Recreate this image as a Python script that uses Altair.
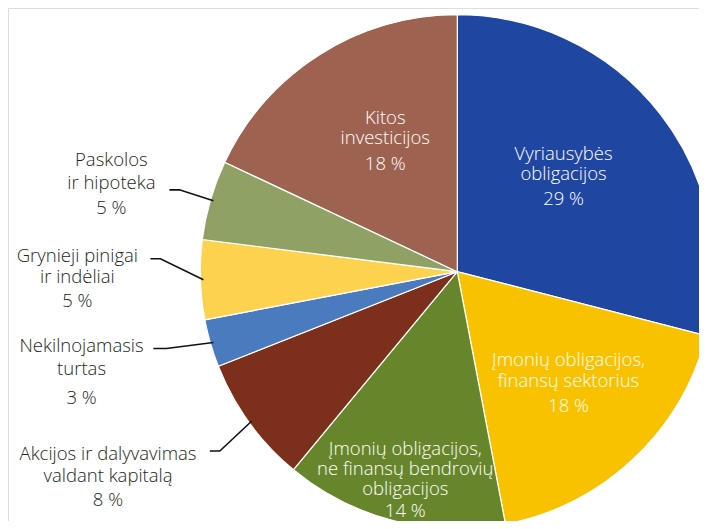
import math
import altair as alt
import pandas as pd

# ---- data ----
categories = [
    "Vyriausybės obligacijos",
    "Įmonių obligacijos, finansų sektorius",
    "Įmonių obligacijos, ne finansų bendrovių obligacijos",
    "Akcijos ir dalyvavimas valdant kapitalą",
    "Nekilnojamasis turtas",
    "Grynieji pinigai ir indėliai",
    "Paskolos ir hipoteka",
    "Kitos investicijos",
]
shares = [29, 18, 14, 8, 3, 5, 5, 18]
label_lines = [
    ["Vyriausybės", "obligacijos"],
    ["Įmonių obligacijos,", "finansų sektorius"],
    ["Įmonių obligacijos,", "ne finansų bendrovių", "obligacijos"],
    ["Akcijos ir dalyvavimas", "valdant kapitalą"],
    ["Nekilnojamasis", "turtas"],
    ["Grynieji pinigai", "ir indėliai"],
    ["Paskolos", "ir hipoteka"],
    ["Kitos", "investicijos"],
]
colors = ["#1F46A0", "#F9C200", "#67862B", "#7C301C", "#4A7BBF", "#FDD24F", "#8FA164", "#9D6250"]

# ---- layout (not data) ----
CX, CY, R = 449.3, 263.7, 257
inside = [True, True, True, False, False, False, False, True]
label_radius = [143, 157, 215, 405, 389, 380, 357, 149]
label_dang = [-4.2, -1.9, -0.4, 5.6, 1.2, 0.8, -1.9, 3.5]
label_gap = [25, 25, 22, 24, 29, 24, 25, 26]
line_step = [20, 21, 20, 22, 23, 21, 23, 20]
leader_elbow = [None, None, None, (-32, 30), (-47, 6), (-43, -21), (-34, -11), None]
leader_start = [None, None, None, (-42, 30), (-60, 6), (-53, -21), (-44, -11), None]

total = sum(shares)
pie = pd.DataFrame({"cat": categories, "share": shares, "idx": list(range(len(shares))), "color": colors})

rows = []
leaders = []
cum = 0.0
for i, s in enumerate(shares):
    mid = (cum + s / 2) / total * 360.0
    cum += s
    a = math.radians(mid + label_dang[i])
    bx = CX + label_radius[i] * math.sin(a)
    by = CY - label_radius[i] * math.cos(a)
    lines = label_lines[i]
    n = len(lines)
    height = line_step[i] * (n - 1) + label_gap[i]
    y0 = by - height / 2
    col = "white" if inside[i] else "#231F20"
    for j, t in enumerate(lines):
        rows.append({"t": t, "x": bx, "y": y0 + j * line_step[i], "c": col})
    rows.append({"t": f"{s} %", "x": bx, "y": y0 + line_step[i] * (n - 1) + label_gap[i], "c": col})
    if leader_elbow[i] is not None:
        am = math.radians(mid)
        ex = CX + (R - 3) * math.sin(am)
        ey = CY - (R - 3) * math.cos(am)
        pts = [(ex + leader_start[i][0], ey + leader_start[i][1]), (ex + leader_elbow[i][0], ey + leader_elbow[i][1]), (ex, ey)]
        for k, (px, py) in enumerate(pts):
            leaders.append({"id": i, "k": k, "x": px, "y": py})

labels = pd.DataFrame(rows)
lead = pd.DataFrame(leaders)

arc = alt.Chart(pie).mark_arc(outerRadius=R, stroke="white", strokeWidth=1.2).encode(
    theta=alt.Theta("share:Q", stack=True),
    color=alt.Color("cat:N", scale=alt.Scale(domain=categories, range=colors), legend=None),
    order=alt.Order("idx:Q"),
    x=alt.value(CX),
    y=alt.value(CY),
)

text = alt.Chart(labels).mark_text(font="Open Sans", fontSize=18.5, fontWeight=300, baseline="middle", align="center").encode(
    x=alt.X("x:Q", scale=None, axis=None),
    y=alt.Y("y:Q", scale=None, axis=None),
    text="t:N",
    color=alt.Color("c:N", scale=None),
)

lines = alt.Chart(lead).mark_line(color="#111111", strokeWidth=1.6).encode(
    x=alt.X("x:Q", scale=None, axis=None),
    y=alt.Y("y:Q", scale=None, axis=None),
    detail="id:N",
    order="k:Q",
)

chart = alt.layer(arc, lines, text).properties(
    width=691, height=513, padding=0, autosize=alt.AutoSizeParams(type="none")
).configure_view(stroke=None).configure(background="white")

chart.save("out.html", embed_options={"renderer": "svg", "actions": False})
